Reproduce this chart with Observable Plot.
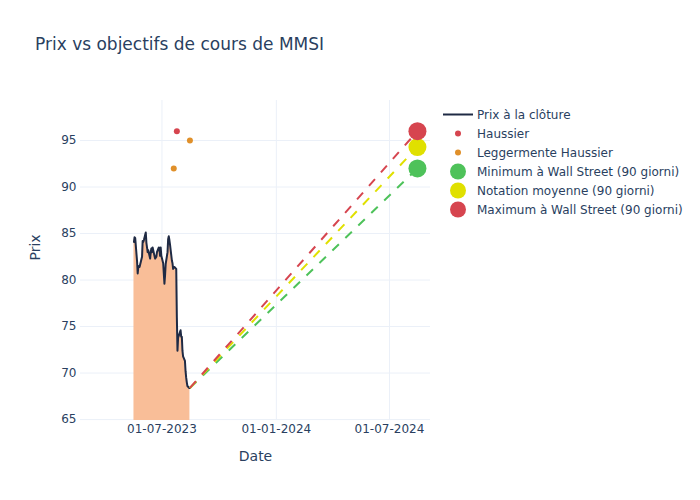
<!DOCTYPE html>
<html>
<head>
<meta charset="utf-8">
<script src="https://cdn.jsdelivr.net/npm/d3@7"></script>
<script src="https://cdn.jsdelivr.net/npm/@observablehq/plot@0.6"></script>
<style>
  html, body { margin: 0; padding: 0; background: #fff; }
  body { width: 700px; height: 500px; position: relative; overflow: hidden; font-family: "DejaVu Sans", sans-serif; color: #2a3f5f; }
  #title { position: absolute; left: 35px; top: 34px; font-size: 17px; white-space: nowrap; }
  #chart { position: absolute; left: 0; top: 0; }
  #legend { position: absolute; left: 443px; top: 105px; font-size: 12px; }
  .item { display: flex; align-items: center; height: 19px; }
  .sym { width: 30px; height: 19px; margin-right: 4px; }
</style>
</head>
<body>
<div id="title">Prix vs objectifs de cours de MMSI</div>
<div id="chart"></div>
<div id="legend"></div>
<script>
// Closing prices
const priceDates = ["2023-05-17","2023-05-18","2023-05-19","2023-05-22","2023-05-23","2023-05-24","2023-05-25","2023-05-26","2023-05-30","2023-05-31","2023-06-01","2023-06-02","2023-06-05","2023-06-06","2023-06-07","2023-06-08","2023-06-09","2023-06-12","2023-06-13","2023-06-14","2023-06-15","2023-06-16","2023-06-20","2023-06-21","2023-06-22","2023-06-23","2023-06-26","2023-06-27","2023-06-28","2023-06-29","2023-06-30","2023-07-03","2023-07-05","2023-07-06","2023-07-07","2023-07-10","2023-07-11","2023-07-12","2023-07-13","2023-07-14","2023-07-17","2023-07-18","2023-07-19","2023-07-20","2023-07-21","2023-07-24","2023-07-25","2023-07-26","2023-07-27","2023-07-28","2023-07-31","2023-08-01","2023-08-02","2023-08-03","2023-08-04","2023-08-07","2023-08-08","2023-08-09","2023-08-10","2023-08-11","2023-08-14","2023-08-15"];
const priceValues = [84.1,84.6,84.5,82.0,80.7,81.4,81.5,81.4,82.5,84.2,84.1,84.3,85.1,84.0,83.5,83.0,83.2,82.3,83.0,83.4,83.0,83.5,82.3,82.4,82.5,83.0,83.5,83.3,82.6,83.5,82.6,81.8,79.6,80.5,81.7,83.0,84.4,84.7,84.3,83.8,82.1,81.8,81.2,81.4,81.4,81.2,76.0,72.4,73.8,74.0,74.6,73.9,73.9,72.4,71.8,71.3,70.2,69.5,69.0,68.6,68.4,68.4];

// Analyst ratings
const ratingDates = ["2023-07-25","2023-07-20","2023-08-15"];
const ratingValues = [96, 92, 95];
const ratingLabels = ["Haussier","Leggermente Haussier","Leggermente Haussier"];

// 90-day targets
const targetLabels = ["Minimum à Wall Street (90 giorni)","Notation moyenne (90 giorni)","Maximum à Wall Street (90 giorni)"];
const targetValues = [92, 94.3, 96];
const targetDate = "2024-08-15";

// Ticks
const xTicks = ["2023-07-01","2024-01-01","2024-07-01"];
const yTicks = [65,70,75,80,85,90,95];

const parse = d3.utcParse("%Y-%m-%d");
const prices = priceDates.map((d,i) => ({date: parse(d), close: priceValues[i]}));
const ratings = ratingDates.map((d,i) => ({date: parse(d), value: ratingValues[i], label: ratingLabels[i]}));
const last = prices[prices.length-1];
const targets = targetLabels.map((l,i) => ({label: l, value: targetValues[i], date: parse(targetDate), x0: last.date, y0: last.close}));

const ratingColors = {"Haussier": "#d6454f", "Leggermente Haussier": "#e0902a"};
const targetColors = {"Minimum à Wall Street (90 giorni)": "#4ec25a", "Notation moyenne (90 giorni)": "#e0e000", "Maximum à Wall Street (90 giorni)": "#d6454f"};
const textColor = "#2a3f5f";
const gridColor = "#ebf0f8";

const chart = Plot.plot({
  width: 700, height: 500,
  marginLeft: 80, marginRight: 270, marginTop: 100, marginBottom: 80,
  style: {fontFamily: "DejaVu Sans, sans-serif", fontSize: "12px", color: textColor, background: "transparent"},
  x: {type: "utc", domain: [parse("2023-02-20"), parse("2024-09-05")]},
  y: {domain: [64.9, 99.3]},
  marks: [
    Plot.gridX(xTicks.map(parse), {stroke: gridColor, strokeOpacity: 1}),
    Plot.gridY(yTicks, {stroke: gridColor, strokeOpacity: 1}),
    Plot.areaY(prices, {x: "date", y: "close", fill: "#f9be98", fillOpacity: 1, clip: true}),
    Plot.lineY(prices, {x: "date", y: "close", stroke: "#1f2a44", strokeWidth: 2}),
    Plot.link(targets, {x1: "x0", y1: "y0", x2: "date", y2: "value", stroke: d => targetColors[d.label], strokeWidth: 2, strokeDasharray: "9,9"}),
    Plot.dot(ratings, {x: "date", y: "value", r: 3, fill: d => ratingColors[d.label], stroke: null}),
    Plot.dot(targets, {x: "date", y: "value", r: 9, fill: d => targetColors[d.label], stroke: null}),
    Plot.axisX(xTicks.map(parse), {tickSize: 0, tickPadding: 4, tickFormat: d3.utcFormat("%d-%m-%Y"), fill: textColor, fontSize: 12, label: null}),
    Plot.axisY(yTicks, {tickSize: 0, tickPadding: 4, fill: textColor, fontSize: 12, label: null}),
    Plot.text(["Date"], {frameAnchor: "bottom", dy: 40, fontSize: 14, fill: textColor}),
    Plot.text(["Prix"], {frameAnchor: "left", dx: -45, rotate: -90, fontSize: 14, fill: textColor})
  ]
});
document.getElementById("chart").appendChild(chart);

// Legend
const legend = document.getElementById("legend");
const ns = "http://www.w3.org/2000/svg";
function addItem(label, draw) {
  const row = document.createElement("div");
  row.className = "item";
  const svg = document.createElementNS(ns, "svg");
  svg.setAttribute("class", "sym");
  svg.setAttribute("width", 30); svg.setAttribute("height", 19);
  svg.innerHTML = draw;
  row.appendChild(svg);
  const t = document.createElement("span");
  t.textContent = label;
  row.appendChild(t);
  legend.appendChild(row);
}
addItem("Prix à la clôture", `<line x1="0" x2="30" y1="9.5" y2="9.5" stroke="#1f2a44" stroke-width="2"/>`);
["Haussier","Leggermente Haussier"].forEach(l => addItem(l, `<circle cx="15" cy="9.5" r="3" fill="${ratingColors[l]}"/>`));
targetLabels.forEach(l => addItem(l, `<circle cx="15" cy="9.5" r="8" fill="${targetColors[l]}"/>`));
</script>
</body>
</html>
